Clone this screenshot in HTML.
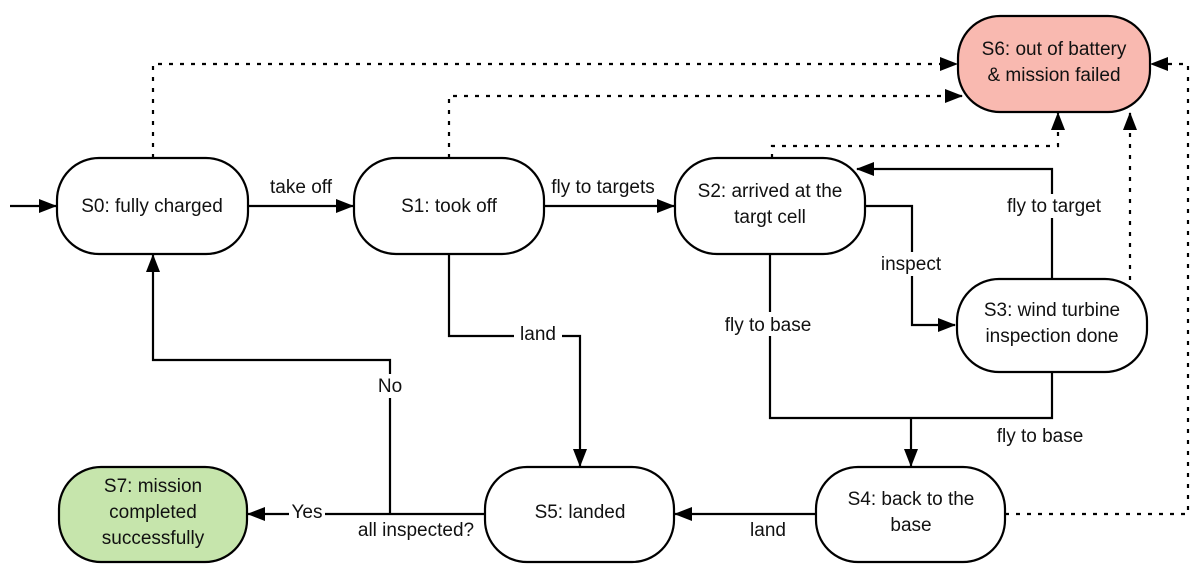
<!DOCTYPE html>
<html><head><meta charset="utf-8"><style>
html,body{margin:0;padding:0;background:#fff;}
svg{display:block;}
text{font-family:"Liberation Sans",Arial,sans-serif;font-size:19px;fill:#111;}
</style></head><body>
<svg width="1196" height="568" viewBox="0 0 1196 568" xmlns="http://www.w3.org/2000/svg">
<defs>
<marker id="a" markerWidth="18" markerHeight="14" refX="17" refY="7" orient="auto" markerUnits="userSpaceOnUse">
<path d="M0,0 L18,7 L0,14 z" fill="#000"/></marker>
</defs>
<g fill="none" stroke="#000" stroke-width="2.2">
<path d="M10,206 H56" marker-end="url(#a)"/>
<path d="M248,206 H353" marker-end="url(#a)"/>
<path d="M544,206 H674" marker-end="url(#a)"/>
<path d="M1052,280 V169 H857" marker-end="url(#a)"/>
<path d="M865,206 H912 V325 H955" marker-end="url(#a)"/>
<path d="M770,254 V418 H1052 V372"/>
<path d="M911,418 V466" marker-end="url(#a)"/>
<path d="M449,254 V336 H580 V466" marker-end="url(#a)"/>
<path d="M816,514 H675" marker-end="url(#a)"/>
<path d="M485,514 H248" marker-end="url(#a)"/>
<path d="M390,514 V360 H153 V255" marker-end="url(#a)"/>
<g stroke-dasharray="4,7">
<path d="M153,158 V64 H957" marker-end="url(#a)"/>
<path d="M449,158 V96 H962" marker-end="url(#a)"/>
<path d="M772,158 V146 H1058 V113" marker-end="url(#a)"/>
<path d="M1130,280 V113" marker-end="url(#a)"/>
<path d="M1005,514 H1188 V64 H1151" marker-end="url(#a)"/>
</g>
</g>
<g stroke="#000" stroke-width="2.2">
<rect x="57" y="158" width="191" height="96" rx="42" fill="#fff"/>
<rect x="354" y="158" width="190" height="96" rx="42" fill="#fff"/>
<rect x="675" y="158" width="190" height="96" rx="42" fill="#fff"/>
<rect x="958" y="16" width="192" height="96" rx="42" fill="#f9b9b0"/>
<rect x="957" y="279" width="190" height="93" rx="42" fill="#fff"/>
<rect x="816" y="467" width="189" height="95" rx="42" fill="#fff"/>
<rect x="485" y="467" width="189" height="95" rx="42" fill="#fff"/>
<rect x="59" y="467" width="188" height="95" rx="42" fill="#c6e5ac"/>
</g>
<g fill="#fff">
<rect x="998" y="194" width="114" height="24"/>
<rect x="874" y="252" width="76" height="24"/>
<rect x="716" y="312" width="106" height="24"/>
<rect x="514" y="322" width="48" height="24"/>
<rect x="374" y="374" width="32" height="24"/>
<rect x="289" y="500" width="36" height="24"/>
</g>
<g text-anchor="middle">
<text x="152" y="212">S0: fully charged</text>
<text x="449" y="212">S1: took off</text>
<text x="770" y="197">S2: arrived at the</text>
<text x="770" y="223">targt cell</text>
<text x="1054" y="55">S6: out of battery</text>
<text x="1054" y="81">&amp; mission failed</text>
<text x="1052" y="316">S3: wind turbine</text>
<text x="1052" y="342">inspection done</text>
<text x="911" y="505">S4: back to the</text>
<text x="911" y="531">base</text>
<text x="580" y="518">S5: landed</text>
<text x="153" y="492">S7: mission</text>
<text x="153" y="518">completed</text>
<text x="153" y="544">successfully</text>
<text x="301" y="193">take off</text>
<text x="603" y="193">fly to targets</text>
<text x="1054" y="212">fly to target</text>
<text x="911" y="270">inspect</text>
<text x="768" y="331">fly to base</text>
<text x="1040" y="442">fly to base</text>
<text x="538" y="340">land</text>
<text x="390" y="392">No</text>
<text x="307" y="518">Yes</text>
<text x="416" y="536">all inspected?</text>
<text x="768" y="536">land</text>
</g>
</svg>
</body></html>
